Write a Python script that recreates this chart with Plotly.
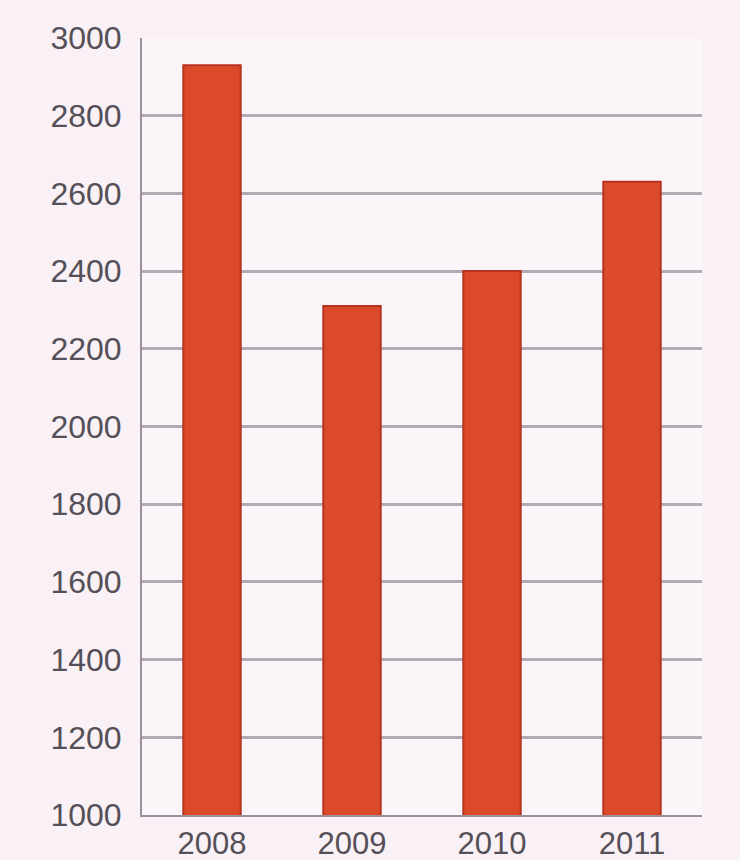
import plotly.graph_objects as go

years = ["2008", "2009", "2010", "2011"]
values = [2930, 2310, 2400, 2630]
y_ticks = [1000, 1200, 1400, 1600, 1800, 2000, 2200, 2400, 2600, 2800, 3000]

fig = go.Figure()
fig.add_trace(go.Bar(
    x=years, y=values,
    marker=dict(color="#dc4a2c", line=dict(color="#b8321e", width=2)),
    width=0.41,
))
fig.update_layout(
    width=740, height=860,
    margin=dict(l=142, r=38, t=38, b=45),
    paper_bgcolor="#faf1f6",
    plot_bgcolor="#fbf4f8",
    showlegend=False,
)
fig.update_yaxes(
    range=[1000, 3000], tickvals=y_ticks,
    ticktext=[str(v) for v in y_ticks],
    showgrid=True, gridcolor="#b3aab4", gridwidth=3,
    showline=True, linecolor="#9a939c", linewidth=2,
    ticks="", tickfont=dict(family="Liberation Sans, Arial", size=32, color="#555058"),
    ticklabelstandoff=12, zeroline=False, automargin=False,
)
fig.update_xaxes(
    showline=True, linecolor="#9a939c", linewidth=2, mirror=False,
    tickfont=dict(family="Liberation Sans, Arial", size=31, color="#555058"),
    ticklabelstandoff=0, automargin=False,
)
fig.write_html("out.html")
